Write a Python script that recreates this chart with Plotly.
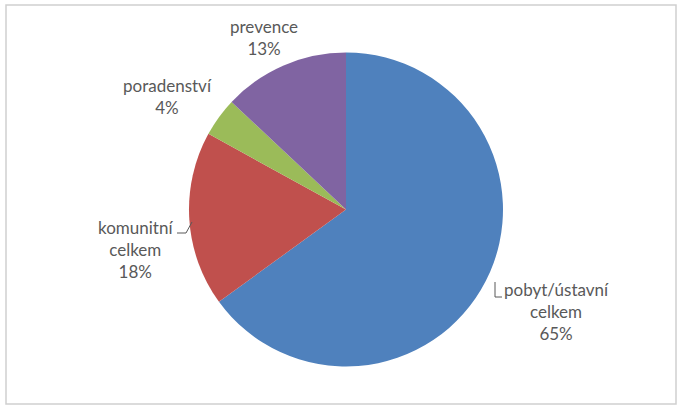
import plotly.graph_objects as go

categories = ["pobyt/ústavní celkem", "komunitní celkem", "poradenství", "prevence"]
values = [65, 18, 4, 13]
colors = ["#4F81BD", "#C0504D", "#9BBB59", "#8064A2"]

W, H = 680, 410
cx, cy, r = 346, 209.5, 157

fig = go.Figure(go.Pie(
    labels=categories,
    values=values,
    sort=False,
    direction="clockwise",
    rotation=0,
    marker=dict(colors=colors, line=dict(width=0)),
    textinfo="none",
    hoverinfo="label+percent",
    showlegend=False,
    domain=dict(x=[(cx - r) / W, (cx + r) / W], y=[(H - cy - r) / H, (H - cy + r) / H]),
))

total = sum(values)
# label anchor positions (pixels) - layout only
label_pos = [(556, 311), (135, 249), (167, 96), (264, 38)]
annotations = []
for cat, v, (px, py) in zip(categories, values, label_pos):
    txt = cat.replace(" ", "<br>") + "<br>" + f"{round(v / total * 100)}%"
    annotations.append(dict(
        x=px / W, y=1 - py / H, xref="paper", yref="paper",
        text=txt, showarrow=False, xanchor="center", yanchor="middle",
        font=dict(family="Lato, Calibri, sans-serif", size=17, color="#595959"),
    ))

def P(px, py):
    return px / W, 1 - py / H

shapes = []
# chart border
x0, y0 = P(6, 5)
x1, y1 = P(676, 404)
shapes.append(dict(type="rect", xref="paper", yref="paper", x0=x0, y0=y1, x1=x1, y1=y0,
                   line=dict(color="#d0d0d0", width=1.5)))
# leader lines
for pts in [[(177, 233), (186, 233), (192, 222)], [(495, 282), (495, 297), (502, 297)]]:
    d = ""
    for i, (px, py) in enumerate(pts):
        xx, yy = P(px, py)
        d += ("M" if i == 0 else "L") + f"{xx},{yy} "
    shapes.append(dict(type="path", xref="paper", yref="paper", path=d.strip(),
                       line=dict(color="#595959", width=1)))

fig.update_layout(
    width=W, height=H,
    margin=dict(l=0, r=0, t=0, b=0),
    paper_bgcolor="white", plot_bgcolor="white",
    annotations=annotations, shapes=shapes,
)

fig.write_html("out.html", config={"displayModeBar": False},
               post_script="document.body.style.margin='0';")
